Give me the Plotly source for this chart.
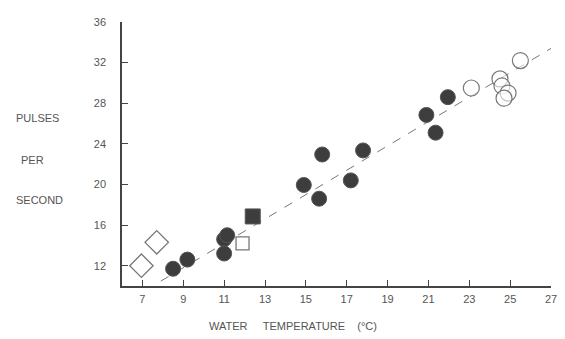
import plotly.graph_objects as go

# Data
filled_circle_x = [8.5, 9.2, 11.0, 11.15, 11.0, 14.9, 15.65, 15.8, 17.2, 17.8, 20.9, 21.35, 21.95]
filled_circle_y = [11.7, 12.6, 14.6, 15.0, 13.2, 19.95, 18.6, 22.95, 20.4, 23.35, 26.85, 25.1, 28.6]

open_circle_x = [23.1, 24.5, 24.6, 24.9, 24.7, 25.5]
open_circle_y = [29.5, 30.4, 29.7, 29.0, 28.5, 32.2]

filled_square_x = [12.4]
filled_square_y = [16.85]

open_square_x = [11.9]
open_square_y = [14.2]

open_diamond_x = [6.95, 7.7]
open_diamond_y = [12.0, 14.3]

fit_slope = 1.2
fit_intercept = 1.0
fit_x = [7.9, 27.0]
fit_y = [fit_slope * v + fit_intercept for v in fit_x]

x_ticks = [7, 9, 11, 13, 15, 17, 19, 21, 23, 25, 27]
y_ticks = [12, 16, 20, 24, 28, 32, 36]

TEXT = "#555555"
AXIS = "#444444"
FONT = "Liberation Sans, Arial, sans-serif"

# page body has an 8px margin, so the figure is sized/offset to compensate
L, T, R, B = 114, 8, 12, 53
W, H = 557, 331
PW = W - L - R
PH = H - T - B

fig = go.Figure()

fig.add_trace(go.Scatter(x=fit_x, y=fit_y, mode="lines",
                         line=dict(color="#777777", width=1, dash="dash"),
                         hoverinfo="skip"))

fig.add_trace(go.Scatter(x=open_diamond_x, y=open_diamond_y, mode="markers",
                         marker=dict(symbol="diamond", size=18, color="white",
                                     line=dict(color="#777777", width=1.3))))
fig.add_trace(go.Scatter(x=open_square_x, y=open_square_y, mode="markers",
                         marker=dict(symbol="square", size=13, color="white",
                                     line=dict(color="#777777", width=1.3))))
fig.add_trace(go.Scatter(x=open_circle_x, y=open_circle_y, mode="markers",
                         marker=dict(symbol="circle", size=16, color="rgba(255,255,255,0.6)",
                                     line=dict(color="#777777", width=1.2))))
fig.add_trace(go.Scatter(x=filled_square_x, y=filled_square_y, mode="markers",
                         marker=dict(symbol="square", size=15, color="#3d3d3d",
                                     line=dict(color="#555555", width=1))))
fig.add_trace(go.Scatter(x=filled_circle_x, y=filled_circle_y, mode="markers",
                         marker=dict(symbol="circle", size=15, color="#3d3d3d",
                                     line=dict(color="#555555", width=1))))


def px_x(p):
    return (p - 8 - L) / PW


def px_y(p):
    return (H - B - (p - 8)) / PH


fig.update_layout(
    width=W, height=H,
    margin=dict(l=L, r=R, t=T, b=B),
    paper_bgcolor="white", plot_bgcolor="white",
    showlegend=False,
    font=dict(family=FONT, size=11, color=TEXT),
    xaxis=dict(range=[6, 27], tickvals=x_ticks, ticks="inside", ticklen=6,
               tickcolor=AXIS, showline=True, linecolor=AXIS, linewidth=1.5,
               showgrid=False, zeroline=False, ticklabelstandoff=2,
               tickfont=dict(family=FONT, size=11, color=TEXT)),
    yaxis=dict(range=[10, 36], tickvals=y_ticks, ticks="inside", ticklen=6,
               tickcolor=AXIS, showline=True, linecolor=AXIS, linewidth=1.5,
               showgrid=False, zeroline=False, ticklabelstandoff=12,
               tickfont=dict(family=FONT, size=11, color=TEXT)),
    annotations=[
        dict(text="WATER&nbsp;&nbsp;&nbsp;&nbsp;&nbsp;TEMPERATURE&nbsp;&nbsp;&nbsp;&nbsp;(°C)",
             xref="paper", yref="paper", x=px_x(207), y=px_y(327),
             xanchor="left", yanchor="middle", showarrow=False,
             font=dict(family=FONT, size=11, color=TEXT)),
        dict(text="PULSES", xref="paper", yref="paper",
             x=px_x(13), y=px_y(114), xanchor="left", yanchor="middle",
             showarrow=False, font=dict(family=FONT, size=11, color=TEXT)),
        dict(text="PER", xref="paper", yref="paper",
             x=px_x(19), y=px_y(157), xanchor="left", yanchor="middle",
             showarrow=False, font=dict(family=FONT, size=11, color=TEXT)),
        dict(text="SECOND", xref="paper", yref="paper",
             x=px_x(13), y=px_y(198), xanchor="left", yanchor="middle",
             showarrow=False, font=dict(family=FONT, size=11, color=TEXT)),
    ],
)

fig.write_html("out.html")
